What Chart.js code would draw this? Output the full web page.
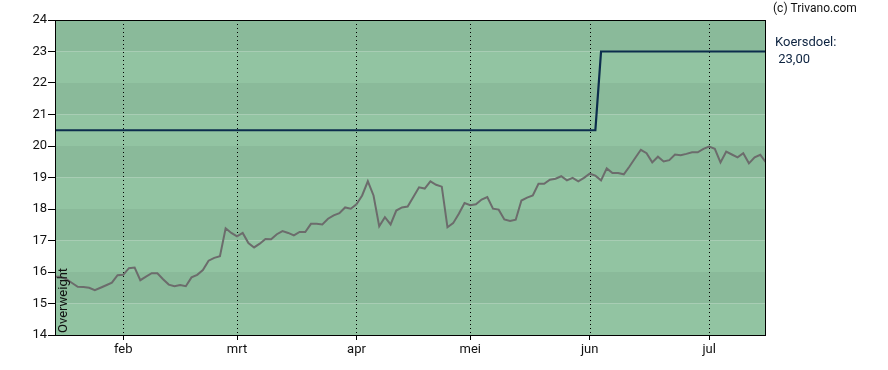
<!DOCTYPE html>
<html>
<head>
<meta charset="utf-8">
<script src="https://cdn.jsdelivr.net/npm/chart.js@4.4.1/dist/chart.umd.min.js"></script>
<style>
  html, body { margin: 0; padding: 0; background: #fff; }
  #wrap { position: relative; width: 888px; height: 370px; }
</style>
</head>
<body>
<div id="wrap"><canvas id="c" width="888" height="370"></canvas></div>
<script>
// Trading-day index based price series
const prices = [
  15.85, 15.85, 15.77, 15.65, 15.53, 15.52, 15.50, 15.42, 15.50, 15.58,
  15.66, 15.90, 15.91, 16.12, 16.14, 15.74, 15.85, 15.96, 15.96, 15.77,
  15.60, 15.55, 15.59, 15.55, 15.83, 15.91, 16.06, 16.36, 16.45, 16.50,
  17.39, 17.24, 17.13, 17.24, 16.92, 16.78, 16.90, 17.05, 17.04, 17.20,
  17.30, 17.24, 17.16, 17.27, 17.27, 17.53, 17.53, 17.51, 17.69, 17.80,
  17.87, 18.05, 18.01, 18.15, 18.43, 18.88, 18.43, 17.45, 17.74, 17.51,
  17.95, 18.05, 18.08, 18.38, 18.69, 18.65, 18.88, 18.77, 18.71, 17.42,
  17.55, 17.85, 18.19, 18.12, 18.15, 18.30, 18.38, 18.01, 17.98, 17.67,
  17.62, 17.66, 18.27, 18.36, 18.43, 18.80, 18.80, 18.93, 18.96, 19.04,
  18.91, 18.99, 18.88, 18.99, 19.12, 19.06, 18.91, 19.29, 19.14, 19.14,
  19.10, 19.35, 19.62, 19.88, 19.77, 19.48, 19.66, 19.51, 19.55, 19.73,
  19.71, 19.75, 19.80, 19.80, 19.91, 19.98, 19.91, 19.48, 19.82, 19.73,
  19.64, 19.77, 19.45, 19.64, 19.72, 19.48
];
// Koersdoel (price target) step line: [index, value]
const targetIdx = [0, 95, 96, 125];
const targetVal = [20.5, 20.5, 23, 23];
// Month ticks
const monthLabels = ['feb', 'mrt', 'apr', 'mei', 'jun', 'jul'];
const monthIdx = [12, 32, 53, 73, 94, 115];
const yMin = 14, yMax = 24;
const xMax = 125;
const targetLabel = '23,00';
const ratingLabel = 'Overweight';

const priceData = prices.map((v, i) => ({ x: i, y: v }));
const targetData = targetIdx.map((x, i) => ({ x: x, y: targetVal[i] }));

const FONT = 'Roboto, "Liberation Sans", Arial, sans-serif';

const bgPlugin = {
  id: 'bg',
  beforeDraw(chart) {
    const { ctx, chartArea: a, scales: { x, y } } = chart;
    ctx.save();
    for (let v = yMin; v < yMax; v++) {
      const top = y.getPixelForValue(v + 1);
      const bot = y.getPixelForValue(v);
      ctx.fillStyle = (v % 2 === 0) ? '#92c4a2' : '#8aba9a';
      ctx.fillRect(a.left, top, a.right - a.left, bot - top);
    }
    // dotted month lines
    ctx.strokeStyle = '#000';
    ctx.lineWidth = 1;
    ctx.setLineDash([1, 3]);
    monthIdx.forEach(m => {
      const px = Math.round(x.getPixelForValue(m)) + 0.5;
      ctx.beginPath();
      ctx.moveTo(px, a.top);
      ctx.lineTo(px, a.bottom);
      ctx.stroke();
    });
    ctx.restore();
  },
  afterDraw(chart) {
    const { ctx, chartArea: a } = chart;
    ctx.save();
    ctx.strokeStyle = '#000';
    ctx.lineWidth = 1;
    ctx.strokeRect(Math.round(a.left) + 0.5, Math.round(a.top) + 0.5,
      Math.round(a.right - a.left) - 1, Math.round(a.bottom - a.top));
    // rating text
    ctx.translate(a.left + 9, a.bottom - 2);
    ctx.rotate(-Math.PI / 2);
    ctx.fillStyle = '#111';
    ctx.font = '13px ' + FONT;
    ctx.textAlign = 'left';
    ctx.textBaseline = 'middle';
    ctx.fillText(ratingLabel, 0, 0);
    ctx.restore();
    // right side texts
    ctx.save();
    ctx.textBaseline = 'top';
    ctx.fillStyle = '#111';
    ctx.font = '12px ' + FONT;
    ctx.fillText('(c) Trivano.com', 773, 3);
    ctx.fillStyle = '#0d2340';
    ctx.font = '13px ' + FONT;
    ctx.fillText('Koersdoel:', 775, 36);
    ctx.fillText(' ' + targetLabel, 775, 53);
    ctx.restore();
  }
};

new Chart(document.getElementById('c'), {
  type: 'line',
  data: {
    datasets: [
      {
        label: 'Koers',
        data: priceData,
        borderColor: '#6c6c6c',
        borderWidth: 2,
        pointRadius: 0,
        tension: 0,
        fill: false
      },
      {
        label: 'Koersdoel',
        data: targetData,
        borderColor: '#0c2d4d',
        borderWidth: 2.2,
        pointRadius: 0,
        tension: 0,
        fill: false
      }
    ]
  },
  options: {
    responsive: false,
    animation: false,
    events: [],
    layout: { padding: { left: 0, top: 20, right: 122, bottom: 0 } },
    plugins: { legend: { display: false }, tooltip: { enabled: false } },
    scales: {
      x: {
        type: 'linear',
        min: 0,
        max: xMax,
        afterBuildTicks(scale) {
          scale.ticks = monthIdx.map(v => ({ value: v }));
        },
        afterFit(scale) { scale.height = 35; },
        ticks: {
          autoSkip: false,
          maxRotation: 0,
          padding: 2,
          color: '#111',
          font: { family: FONT, size: 13 },
          callback: (v) => monthLabels[monthIdx.indexOf(v)] || ''
        },
        grid: { drawOnChartArea: false, drawTicks: true, tickLength: 5, tickColor: '#000', color: '#000' },
        border: { display: false }
      },
      y: {
        min: yMin,
        max: yMax,
        afterFit(scale) { scale.width = 55; },
        ticks: {
          stepSize: 1,
          padding: 1,
          color: '#111',
          font: { family: FONT, size: 13 }
        },
        grid: { drawOnChartArea: false, drawTicks: true, tickLength: 7, tickColor: '#000', color: '#000' },
        border: { display: false }
      }
    }
  },
  plugins: [bgPlugin]
});
</script>
</body>
</html>
